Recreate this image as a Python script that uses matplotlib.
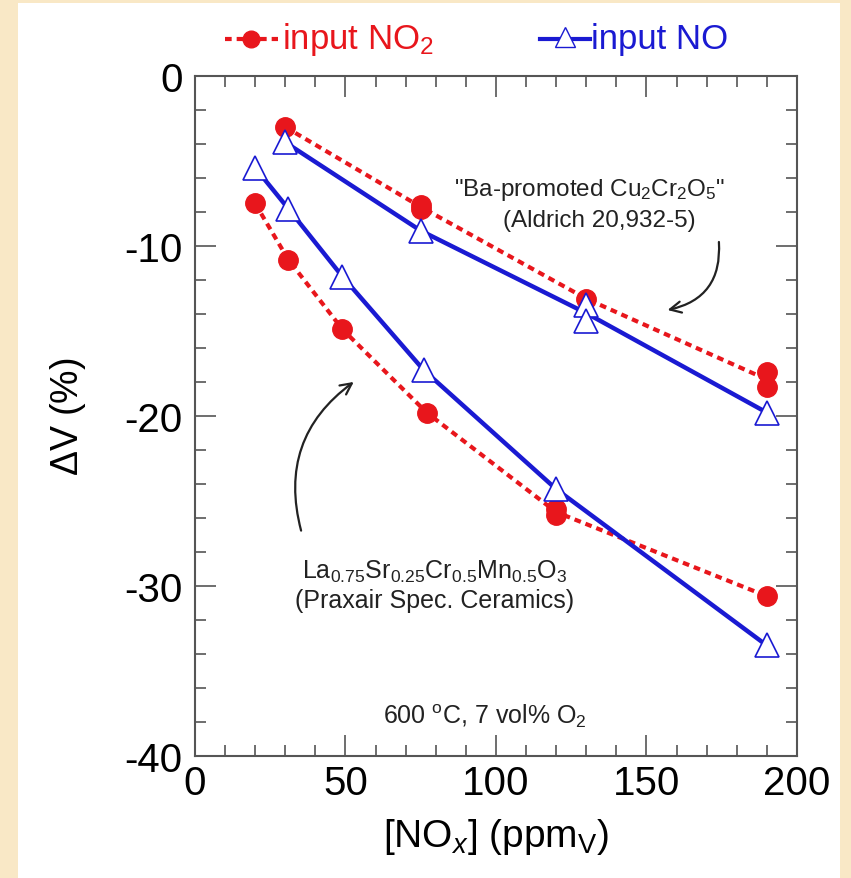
import matplotlib.pyplot as plt
import numpy as np
from matplotlib.patches import Rectangle

plt.rcParams['font.family'] = ['Liberation Sans', 'DejaVu Sans']
plt.rcParams['mathtext.fontset'] = 'custom'
plt.rcParams['mathtext.rm'] = 'Liberation Sans'
plt.rcParams['mathtext.it'] = 'Liberation Sans:italic'
plt.rcParams['axes.unicode_minus'] = False

# Ba-promoted Cu2Cr2O5
cu_no2_x = [30, 75, 75, 130, 190, 190]
cu_no2_y = [-3.0, -7.6, -7.8, -13.1, -17.4, -18.3]
cu_no_x = [30, 75, 130, 130, 190]
cu_no_y = [-3.9, -9.1, -13.5, -14.4, -19.8]

# La0.75Sr0.25Cr0.5Mn0.5O3
ls_no2_x = [20, 31, 49, 77, 120, 120, 190]
ls_no2_y = [-7.5, -10.8, -14.9, -19.8, -25.5, -25.8, -30.6]
ls_no_x = [20, 31, 49, 76, 120, 190]
ls_no_y = [-5.4, -7.8, -11.8, -17.3, -24.3, -33.5]

RED = '#e8161c'
BLUE = '#1a1ad2'


def mean_line(x, y):
    xs = sorted(set(x))
    ys = [np.mean([b for a, b in zip(x, y) if a == v]) for v in xs]
    return xs, ys


fig = plt.figure(figsize=(8.51, 8.79), dpi=100)
fig.patch.set_facecolor('#f9e8c6')
fig.patches.append(Rectangle((18 / 851, 0), (840 - 18) / 851, 875 / 879,
                             transform=fig.transFigure, facecolor='white',
                             edgecolor='none', zorder=-5))

ax = fig.add_axes([0.2291, 0.1388, 0.7074, 0.7736])

for xx, yy in [(cu_no2_x, cu_no2_y), (ls_no2_x, ls_no2_y)]:
    lx, ly = mean_line(xx, yy)
    ax.plot(lx, ly, color=RED, lw=3, ls=(0, (1.6, 1.2)), zorder=2)
    ax.plot(xx, yy, 'o', color=RED, ms=14, mec=RED, zorder=3)
for xx, yy in [(cu_no_x, cu_no_y), (ls_no_x, ls_no_y)]:
    lx, ly = mean_line(xx, yy)
    ax.plot(lx, ly, color=BLUE, lw=3.2, zorder=2)
    ax.plot(xx, yy, '^', color=BLUE, ms=17, mfc='white', mec=BLUE, mew=1.2, zorder=4)

ax.set_xlim(0, 200)
ax.set_ylim(-40, 0)
ax.set_xticks(np.arange(0, 201, 50))
ax.set_xticks(np.arange(0, 201, 10), minor=True)
ax.set_yticks(np.arange(-40, 1, 10))
ax.set_yticks(np.arange(-40, 1, 2), minor=True)
ax.tick_params(which='both', direction='in', top=True, right=True,
               color='#555555', width=1.2)
ax.tick_params(which='major', length=15, labelsize=29, pad=6)
ax.tick_params(axis='y', which='major', pad=9)
ax.tick_params(which='minor', length=8)
for s in ax.spines.values():
    s.set_color('#555555')
    s.set_linewidth(1.5)

ax.set_xlabel(r'[NO$_{\mathit{x}}$] (ppm$_\mathrm{V}$)', fontsize=28, labelpad=10)
ax.set_ylabel(r'$\Delta$V (%)', fontsize=27, labelpad=26)

ax.text(131, -6.65, r'"Ba-promoted Cu$_2$Cr$_2$O$_5$"', fontsize=17.5,
        ha='center', va='center', color='#222222')
ax.text(134.5, -8.5, '(Aldrich 20,932-5)', fontsize=17.5,
        ha='center', va='center', color='#222222')
ax.text(79.7, -29.1, r'La$_{0.75}$Sr$_{0.25}$Cr$_{0.5}$Mn$_{0.5}$O$_3$', fontsize=18,
        ha='center', va='center', color='#222222')
ax.text(79.7, -30.8, '(Praxair Spec. Ceramics)', fontsize=18,
        ha='center', va='center', color='#222222')
ax.text(96.3, -37.6, r'600 $^\mathrm{o}$C, 7 vol% O$_2$', fontsize=18,
        ha='center', va='center', color='#222222')

ax.annotate('', xy=(156.1, -13.8), xytext=(174, -9.6),
            arrowprops=dict(arrowstyle='->', color='#222222', lw=1.6,
                            connectionstyle='arc3,rad=-0.45', mutation_scale=20))
ax.annotate('', xy=(53.5, -17.9), xytext=(35.5, -26.9),
            arrowprops=dict(arrowstyle='->', color='#222222', lw=1.6,
                            connectionstyle='arc3,rad=-0.35', mutation_scale=20))

# legend drawn above the axes
fig.lines.append(plt.Line2D([225 / 851, 278 / 851], [839 / 879, 839 / 879],
                            transform=fig.transFigure, color=RED, lw=3,
                            ls=(0, (1.6, 1.2))))
fig.lines.append(plt.Line2D([251 / 851], [839 / 879], transform=fig.transFigure,
                            marker='o', color=RED, ms=12))
fig.text(282 / 851, 839 / 879, r'input NO$_2$', color=RED, fontsize=25,
         ha='left', va='center')
fig.lines.append(plt.Line2D([540 / 851, 590 / 851], [839 / 879, 839 / 879],
                            transform=fig.transFigure, color=BLUE, lw=3))
fig.lines.append(plt.Line2D([565 / 851], [841 / 879], transform=fig.transFigure,
                            marker='^', color=BLUE, mfc='white', mec=BLUE, ms=14))
fig.text(591 / 851, 839 / 879, 'input NO', color=BLUE, fontsize=25,
         ha='left', va='center')

fig.savefig('out.png', dpi=100)
